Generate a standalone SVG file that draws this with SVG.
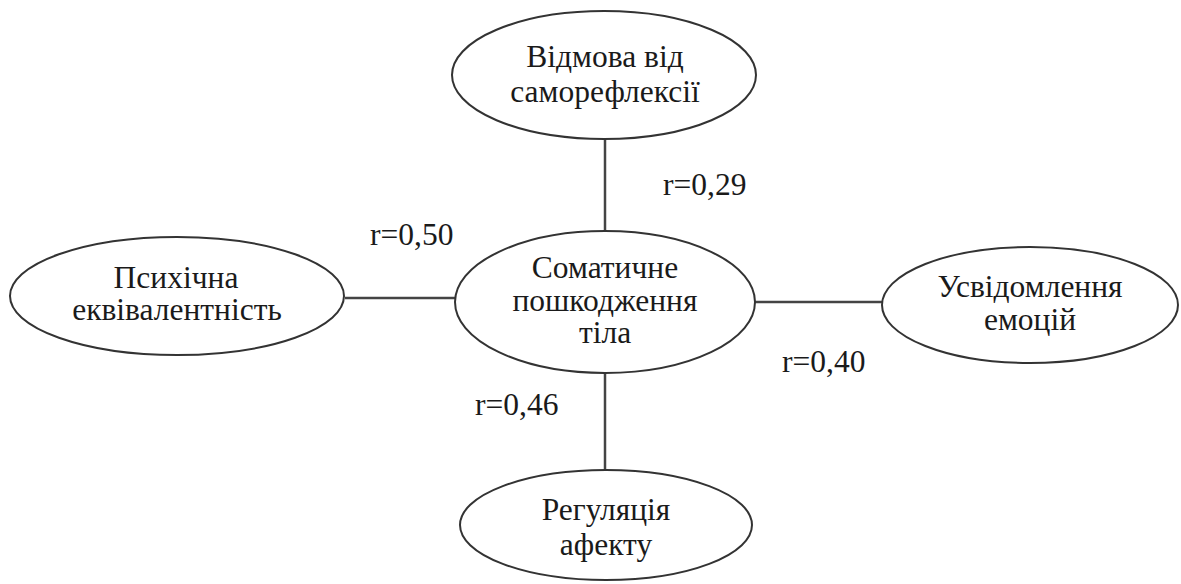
<svg xmlns="http://www.w3.org/2000/svg" width="1181" height="584" viewBox="0 0 1181 584">
<style>
.node{fill:#fff;stroke:#333;stroke-width:2}
.edge{stroke:#444;stroke-width:2.5;fill:none}
text{font-family:"Liberation Serif","Times New Roman",serif;font-size:31.5px;fill:#1a1a1a;text-anchor:middle}
.lbl{text-anchor:start}
</style>
<rect width="1181" height="584" fill="#fff"/>
<g id="connectors">
<line class="edge" x1="605" y1="139" x2="605" y2="231"/>
<line class="edge" x1="345" y1="298" x2="455" y2="298"/>
<line class="edge" x1="755" y1="302" x2="882" y2="302"/>
<line class="edge" x1="605" y1="373" x2="605" y2="470"/>
<text class="lbl" x="663" y="195">r=0,29</text>
<text class="lbl" x="370" y="245">r=0,50</text>
<text class="lbl" x="782" y="372">r=0,40</text>
<text class="lbl" x="475" y="415">r=0,46</text>
</g>
<g id="top">
<ellipse class="node" cx="604" cy="75" rx="152" ry="64"/>
<text x="605" y="67">Відмова від</text>
<text x="605" y="102">саморефлексії</text>
</g>
<g id="center">
<ellipse class="node" cx="605" cy="302" rx="150" ry="71"/>
<text x="605" y="278">Соматичне</text>
<text x="605" y="311">пошкодження</text>
<text x="605" y="343">тіла</text>
</g>
<g id="left">
<ellipse class="node" cx="177" cy="296" rx="167" ry="59"/>
<text x="176" y="288">Психічна</text>
<text x="177" y="320">еквівалентність</text>
</g>
<g id="right">
<ellipse class="node" cx="1030" cy="305" rx="148" ry="58"/>
<text x="1030" y="297">Усвідомлення</text>
<text x="1030" y="330">емоцій</text>
</g>
<g id="bottom">
<ellipse class="node" cx="606" cy="525" rx="146" ry="55"/>
<text x="606" y="520">Регуляція</text>
<text x="606" y="555">афекту</text>
</g>
</svg>
